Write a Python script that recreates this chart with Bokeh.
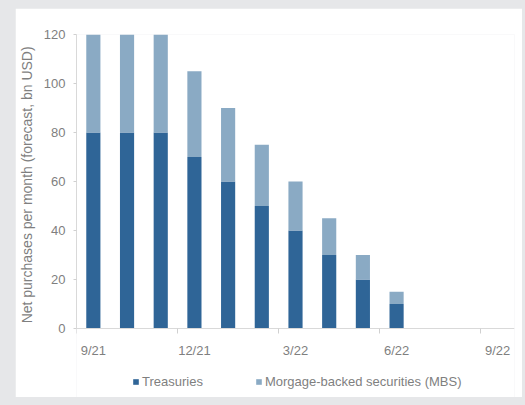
from bokeh.plotting import figure
from bokeh.models import FixedTicker, Legend, LegendItem, ColumnDataSource, Range1d
from bokeh.embed import file_html
from bokeh.resources import INLINE

# ---- data ----
months = ["9/21", "10/21", "11/21", "12/21", "1/22", "2/22", "3/22", "4/22", "5/22", "6/22"]
treasuries = [80, 80, 80, 70, 60, 50, 40, 30, 20, 10]
mbs = [40, 40, 40, 35, 30, 25, 20, 15, 10, 5]
tick_labels = ["9/21", "12/21", "3/22", "6/22", "9/22"]
tick_month_index = [0, 3, 6, 9, 12]
series_names = ["Treasuries", "Morgage-backed securities (MBS)"]
y_title = "Net purchases per month (forecast,  bn USD)"
colors = ["#2f6597", "#8aaac4"]

x = [i + 0.5 for i in range(len(months))]
source = ColumnDataSource(dict(x=x, treasuries=treasuries, mbs=mbs))

FONT = "Liberation Sans"
TXT = "#7f7f7f"

# frame runs from the top of the bars down to the legend area;
# 294 px for 0..120 -> 2.45 px per unit; extra room below 0 for axis labels + legend
FRAME_H = 363
Y_TOP = 120
Y_BOTTOM = Y_TOP - FRAME_H / 2.45

p = figure(frame_width=438, frame_height=FRAME_H, output_backend="svg", toolbar_location=None,
           x_range=Range1d(0, 13), y_range=Range1d(Y_BOTTOM, Y_TOP),
           min_border_left=58, min_border_right=8, min_border_top=26, min_border_bottom=0)
p.outline_line_color = None
p.background_fill_color = "white"
p.border_fill_color = "white"
p.grid.visible = False

r = p.vbar_stack(["treasuries", "mbs"], x="x", width=0.42, color=colors, source=source,
                 line_color=None)

# x axis drawn at y = 0: tick marks between months, labels centred on month
xt = FixedTicker(ticks=[i + 0.5 for i in tick_month_index],
                 minor_ticks=tick_month_index)
p.xaxis.fixed_location = 0
p.xaxis.ticker = xt
p.xaxis.major_label_overrides = {i + 0.5: lab for i, lab in zip(tick_month_index, tick_labels)}
p.xaxis.major_tick_line_color = None
p.xaxis.major_tick_out = 0
p.xaxis.major_tick_in = 0
p.xaxis.minor_tick_line_color = "#d0d0d0"
p.xaxis.minor_tick_out = 5
p.xaxis.minor_tick_in = 0
p.xaxis.axis_line_color = "#d9d9d9"
p.xaxis.major_label_standoff = 9
p.xaxis.major_label_text_font = FONT
p.xaxis.major_label_text_font_size = "13px"
p.xaxis.major_label_text_color = TXT

p.yaxis.ticker = FixedTicker(ticks=[0, 20, 40, 60, 80, 100, 120])
p.yaxis.bounds = (0, 120)
p.yaxis.minor_tick_line_color = None
p.yaxis.major_tick_line_color = "#d0d0d0"
p.yaxis.major_tick_out = 3
p.yaxis.major_tick_in = 0
p.yaxis.axis_line_color = "#d9d9d9"
p.yaxis.major_label_standoff = 8
p.yaxis.major_label_text_font = FONT
p.yaxis.major_label_text_font_size = "13px"
p.yaxis.major_label_text_color = TXT
# leading no-break spaces lift the centred title to the middle of the 0..120 span
p.yaxis.axis_label = "\u00a0" * 17 + y_title
p.yaxis.axis_label_text_font = FONT
p.yaxis.axis_label_text_font_size = "14px"
p.yaxis.axis_label_text_font_style = "normal"
p.yaxis.axis_label_text_color = TXT
p.yaxis.axis_label_standoff = 6

legend = Legend(items=[LegendItem(label=series_names[0], renderers=[r[0]]),
                       LegendItem(label=series_names[1], renderers=[r[1]])],
                orientation="horizontal", location=(56, 8))
legend.border_line_color = None
legend.background_fill_alpha = 0
legend.glyph_width = 7
legend.glyph_height = 7
legend.label_height = 13
legend.label_standoff = 3
legend.spacing = 52
legend.padding = 0
legend.margin = 0
legend.label_text_font = FONT
legend.label_text_font_size = "13px"
legend.label_text_color = TXT
p.add_layout(legend)

html = file_html(p, INLINE)
style = ("<style>html, body { background-color: #e6e7e9 !important; } "
         "body { margin: 8px 0 0 15px !important; overflow: hidden; }</style>")
html = html.replace("</head>", style + "</head>", 1)
open("out.html", "w").write(html)
